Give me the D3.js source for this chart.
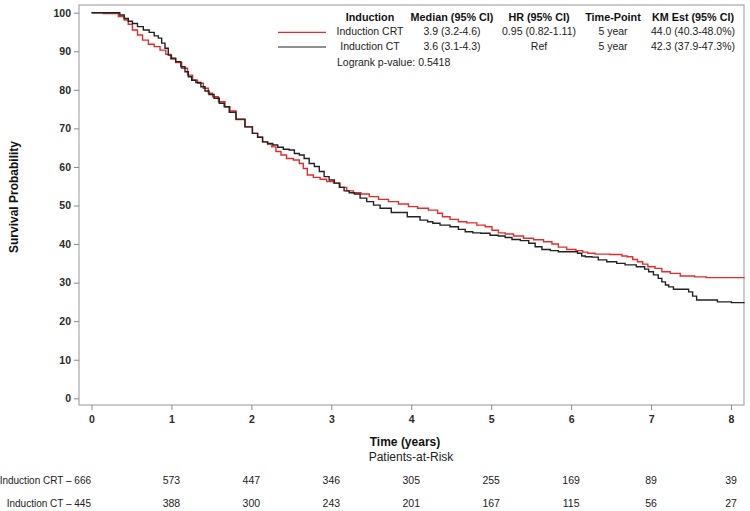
<!DOCTYPE html>
<html>
<head>
<meta charset="utf-8">
<script src="https://cdn.jsdelivr.net/npm/d3@7"></script>
<style>
  html, body { margin: 0; padding: 0; background: #fff; }
  svg { display: block; font-family: "Liberation Sans", Arial, sans-serif; }
</style>
</head>
<body>
<svg id="chart" width="750" height="511"></svg>
<script>
// ---- Data ----
const xTicks = [0, 1, 2, 3, 4, 5, 6, 7, 8];
const yTicks = [0, 10, 20, 30, 40, 50, 60, 70, 80, 90, 100];

// Kaplan-Meier curve points: [time (years), survival %]
const crtCurve = [
  [0, 100], [0.294, 99.8], [0.378, 99.0], [0.44, 98.1], [0.48, 97.0], [0.544, 95.5],
  [0.607, 94.2], [0.67, 92.9], [0.753, 91.8], [0.816, 91.2], [0.899, 90.3], [0.96, 89.2],
  [1.02, 88.0], [1.086, 87.1], [1.17, 85.6], [1.233, 83.8], [1.295, 82.5], [1.358, 81.7],
  [1.44, 80.4], [1.483, 79.1], [1.546, 78.2], [1.63, 76.9], [1.71, 75.6], [1.755, 74.5],
  [1.86, 72.3], [1.98, 70.4], [2.046, 68.7], [2.11, 67.7], [2.17, 66.5], [2.236, 65.9],
  [2.275, 65.2], [2.34, 64.0], [2.40, 63.1], [2.48, 62.2], [2.57, 61.8], [2.63, 60.9],
  [2.67, 59.6], [2.73, 57.9], [2.82, 57.3], [2.90, 56.8], [2.985, 56.2], [3.07, 55.8],
  [3.15, 54.7], [3.235, 53.8], [3.32, 53.3], [3.42, 53.0], [3.53, 52.3], [3.65, 51.6],
  [3.78, 51.0], [3.90, 50.4], [4.03, 49.7], [4.13, 49.3], [4.30, 48.8], [4.36, 48.0],
  [4.42, 47.1], [4.55, 46.4], [4.63, 45.8], [4.76, 45.5], [4.88, 44.9], [4.97, 44.5],
  [5.05, 43.6], [5.13, 42.9], [5.22, 42.6], [5.34, 42.1], [5.47, 41.5], [5.59, 41.1],
  [5.72, 40.6], [5.80, 40.0], [5.88, 39.2], [6.01, 38.6], [6.11, 38.3], [6.18, 37.9],
  [6.24, 37.6], [6.36, 37.4], [6.61, 37.3], [6.66, 36.9], [6.74, 36.7], [6.80, 36.0],
  [6.86, 35.4], [6.93, 34.8], [6.99, 34.1], [7.11, 33.7], [7.16, 32.8], [7.32, 32.4],
  [7.41, 31.7], [7.68, 31.5], [7.70, 31.3], [8.17, 31.3]
];
const ctCurve = [
  [0, 100], [0.33, 100], [0.378, 99.4], [0.44, 98.5], [0.48, 97.8], [0.544, 97.2],
  [0.607, 96.4], [0.69, 95.5], [0.753, 94.9], [0.816, 94.0], [0.857, 93.4], [0.899, 92.1],
  [0.94, 90.8], [0.98, 89.0], [1.02, 88.2], [1.086, 87.3], [1.149, 86.0], [1.19, 84.7],
  [1.233, 83.4], [1.274, 82.5], [1.337, 81.9], [1.40, 80.8], [1.44, 79.7], [1.50, 78.8],
  [1.567, 77.8], [1.63, 76.5], [1.69, 75.6], [1.755, 74.2], [1.86, 72.4], [1.98, 70.4],
  [2.046, 68.7], [2.11, 67.7], [2.17, 66.5], [2.236, 66.1], [2.30, 65.7], [2.36, 65.1],
  [2.44, 64.6], [2.506, 64.4], [2.57, 63.5], [2.63, 63.1], [2.69, 62.2], [2.756, 60.9],
  [2.82, 60.1], [2.88, 58.8], [2.94, 57.5], [3.006, 56.6], [3.07, 55.8], [3.13, 54.7],
  [3.19, 53.8], [3.257, 53.3], [3.32, 53.0], [3.40, 51.9], [3.486, 51.0], [3.57, 50.1],
  [3.65, 49.3], [3.85, 48.2], [4.05, 47.1], [4.17, 46.2], [4.24, 45.8], [4.30, 45.4],
  [4.42, 44.9], [4.55, 44.5], [4.63, 43.8], [4.72, 43.2], [4.82, 42.9], [4.92, 42.8],
  [5.05, 42.3], [5.13, 42.1], [5.22, 41.7], [5.30, 41.2], [5.43, 40.9], [5.51, 40.2],
  [5.59, 39.3], [5.68, 38.6], [5.80, 38.3], [5.88, 38.0], [6.05, 38.0], [6.11, 37.6],
  [6.155, 36.9], [6.20, 36.7], [6.32, 36.6], [6.36, 35.9], [6.53, 35.4], [6.61, 35.0],
  [6.74, 34.6], [6.89, 34.1], [6.95, 33.5], [6.99, 32.8], [7.07, 32.0], [7.11, 31.1],
  [7.16, 30.2], [7.20, 29.4], [7.24, 28.9], [7.32, 28.3], [7.45, 28.3], [7.49, 27.6],
  [7.55, 26.5], [7.59, 25.5], [7.82, 25.5], [7.84, 25.0], [8.17, 24.8]
];

const riskLabels = ["Induction CRT \u2013 666", "Induction CT \u2013 445"];
const riskYears = [1, 2, 3, 4, 5, 6, 7, 8];
const riskCRT = [573, 447, 346, 305, 255, 169, 89, 39];
const riskCT  = [388, 300, 243, 201, 167, 115, 56, 27];

const legendHeaders = ["Induction", "Median (95% CI)", "HR (95% CI)", "Time-Point", "KM Est (95% CI)"];
const legendRowCRT = ["Induction CRT", "3.9 (3.2-4.6)", "0.95 (0.82-1.11)", "5 year", "44.0 (40.3-48.0%)"];
const legendRowCT  = ["Induction CT", "3.6 (3.1-4.3)", "Ref", "5 year", "42.3 (37.9-47.3%)"];
const logrankText = "Logrank p-value: 0.5418";

const colorCRT = "#ea2a2a";
const colorCT = "#222222";

// ---- Layout ----
const svg = d3.select("#chart");
const frame = { left: 79, right: 744, top: 5, bottom: 405 };
const x = d3.scaleLinear().domain([0, 8]).range([91.5, 731]);
const y = d3.scaleLinear().domain([0, 100]).range([398.3, 12.7]);

// Frame
svg.append("rect")
  .attr("x", frame.left).attr("y", frame.top)
  .attr("width", frame.right - frame.left).attr("height", frame.bottom - frame.top)
  .attr("fill", "none").attr("stroke", "#a8a8a8").attr("stroke-width", 1.2);

// Y axis
const yAxis = d3.axisLeft(y).tickValues(yTicks).tickSize(5).tickPadding(3);
const gy = svg.append("g").attr("transform", `translate(${frame.left},0)`).call(yAxis);
gy.select(".domain").remove();
gy.selectAll(".tick line").attr("stroke", "#888");
gy.selectAll(".tick text").attr("fill", "#2a2a2a").attr("font-size", 10.5).attr("font-weight", "bold")
  .attr("font-family", "Liberation Sans, Arial, sans-serif");

// X axis
const xAxis = d3.axisBottom(x).tickValues(xTicks).tickSize(5).tickPadding(6);
const gx = svg.append("g").attr("transform", `translate(0,${frame.bottom})`).call(xAxis);
gx.select(".domain").remove();
gx.selectAll(".tick line").attr("stroke", "#888");
gx.selectAll(".tick text").attr("fill", "#2a2a2a").attr("font-size", 10.5).attr("font-weight", "bold")
  .attr("font-family", "Liberation Sans, Arial, sans-serif");

// Axis titles
svg.append("text").attr("x", 405).attr("y", 446).attr("text-anchor", "middle")
  .attr("font-size", 12).attr("font-weight", "bold").attr("fill", "#111").text("Time (years)");
svg.append("text").attr("transform", "translate(18,197) rotate(-90)").attr("text-anchor", "middle")
  .attr("font-size", 12).attr("font-weight", "bold").attr("fill", "#111").text("Survival Probability");

// Curves
const line = d3.line().x(d => x(d[0])).y(d => y(d[1])).curve(d3.curveStep);
svg.append("path").datum(crtCurve).attr("d", line)
  .attr("fill", "none").attr("stroke", colorCRT).attr("stroke-width", 1.4);
svg.append("path").datum(ctCurve).attr("d", line)
  .attr("fill", "none").attr("stroke", colorCT).attr("stroke-width", 1.4);

// Legend
const legCols = [370, 452, 539, 613, 693];
const legG = svg.append("g").attr("fill", "#111");
legG.selectAll("text.hdr").data(legendHeaders).join("text").attr("class", "hdr")
  .attr("x", (d, i) => legCols[i]).attr("y", 21).attr("text-anchor", "middle")
  .attr("font-size", 10.8).attr("font-weight", "bold").text(d => d);
legG.selectAll("text.r1").data(legendRowCRT).join("text").attr("class", "r1")
  .attr("x", (d, i) => legCols[i]).attr("y", 35).attr("text-anchor", "middle")
  .attr("font-size", 10.5).attr("fill", "#222").text(d => d);
legG.selectAll("text.r2").data(legendRowCT).join("text").attr("class", "r2")
  .attr("x", (d, i) => legCols[i]).attr("y", 50).attr("text-anchor", "middle")
  .attr("font-size", 10.5).attr("fill", "#222").text(d => d);
legG.append("text").attr("x", 337).attr("y", 66).attr("font-size", 10.5).attr("fill", "#222").text(logrankText);
svg.append("line").attr("x1", 278).attr("x2", 326).attr("y1", 32.3).attr("y2", 32.3)
  .attr("stroke", colorCRT).attr("stroke-width", 1.2);
svg.append("line").attr("x1", 278).attr("x2", 326).attr("y1", 47).attr("y2", 47)
  .attr("stroke", colorCT).attr("stroke-width", 1.2);

// Patients-at-risk table
svg.append("text").attr("x", 411).attr("y", 461).attr("text-anchor", "middle")
  .attr("font-size", 12).attr("fill", "#222").text("Patients-at-Risk");
const riskRows = [riskCRT, riskCT];
const riskY = [484, 507];
riskRows.forEach((row, r) => {
  svg.append("text").attr("x", 91).attr("y", riskY[r]).attr("text-anchor", "end")
    .attr("font-size", 10).attr("fill", "#222").text(riskLabels[r]);
  svg.append("g").selectAll("text").data(row).join("text")
    .attr("x", (d, i) => x(riskYears[i])).attr("y", riskY[r]).attr("text-anchor", "middle")
    .attr("font-size", 10.5).attr("fill", "#222").text(d => d);
});
</script>
</body>
</html>
